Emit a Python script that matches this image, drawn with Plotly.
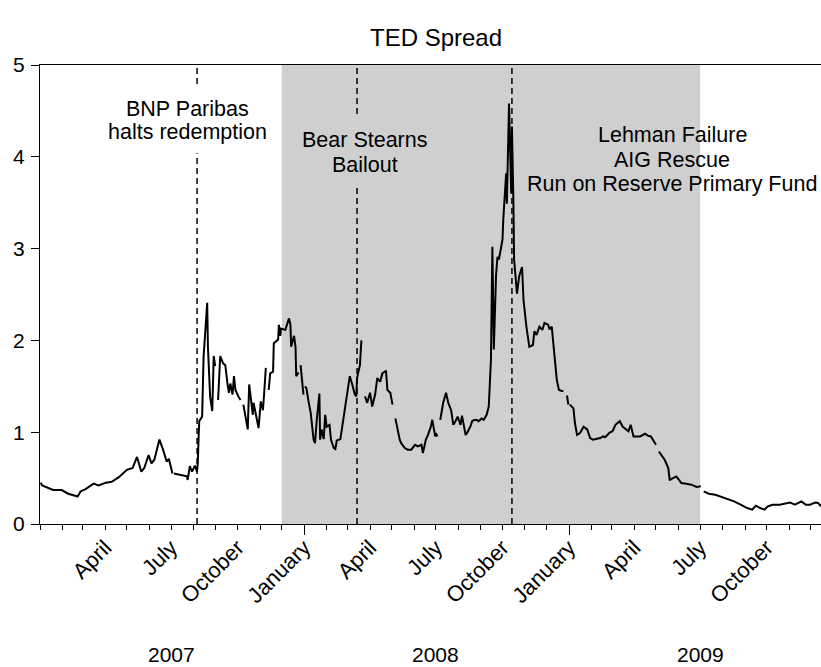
import plotly.graph_objects as go

# ---------------- data ----------------
ted_dates = [
    "2007-01-02", "2007-01-04", "2007-01-19", "2007-01-31", "2007-02-09", "2007-02-22", "2007-02-26",
    "2007-03-05", "2007-03-16", "2007-03-23", "2007-04-02", "2007-04-10", "2007-04-20", "2007-05-01",
    "2007-05-09", "2007-05-15", "2007-05-21", "2007-05-25", "2007-05-31", "2007-06-04", "2007-06-08",
    "2007-06-15", "2007-06-20", "2007-06-25", "2007-06-28", "2007-07-02", "2007-07-03", "2007-07-04",
    "2007-07-05", "2007-07-12", "2007-07-23", "2007-07-24", "2007-07-27", "2007-07-30", "2007-08-03",
    "2007-08-06", "2007-08-07", "2007-08-08", "2007-08-09", "2007-08-13", "2007-08-15", "2007-08-20",
    "2007-08-21", "2007-08-24", "2007-08-27", "2007-08-29", "2007-08-31", "2007-09-03", "2007-09-04",
    "2007-09-07", "2007-09-11", "2007-09-14", "2007-09-17", "2007-09-19", "2007-09-21", "2007-09-24",
    "2007-09-26", "2007-09-28", "2007-10-02", "2007-10-05", "2007-10-08", "2007-10-09", "2007-10-15",
    "2007-10-17", "2007-10-22", "2007-10-23", "2007-10-29", "2007-10-30", "2007-11-02", "2007-11-05",
    "2007-11-07", "2007-11-09", "2007-11-12", "2007-11-13", "2007-11-15", "2007-11-19", "2007-11-20",
    "2007-11-26", "2007-11-27", "2007-11-29", "2007-11-30", "2007-12-06", "2007-12-11", "2007-12-13",
    "2007-12-14", "2007-12-18", "2007-12-20", "2007-12-21", "2007-12-24", "2007-12-25", "2007-12-26",
    "2007-12-27", "2007-12-31", "2008-01-01", "2008-01-02", "2008-01-04", "2008-01-07", "2008-01-10",
    "2008-01-14", "2008-01-16", "2008-01-18", "2008-01-22", "2008-01-23", "2008-01-25", "2008-01-28",
    "2008-01-30", "2008-02-01", "2008-02-05", "2008-02-07", "2008-02-11", "2008-02-13", "2008-02-15",
    "2008-02-20", "2008-02-22", "2008-02-26", "2008-02-29", "2008-03-04", "2008-03-07", "2008-03-11",
    "2008-03-13", "2008-03-14", "2008-03-18", "2008-03-20", "2008-03-21", "2008-03-25", "2008-03-28",
    "2008-04-01", "2008-04-04", "2008-04-08", "2008-04-11", "2008-04-15", "2008-04-18", "2008-04-23",
    "2008-04-25", "2008-04-29", "2008-05-02", "2008-05-05", "2008-05-06", "2008-05-08", "2008-05-12",
    "2008-05-14", "2008-05-19", "2008-05-23", "2008-05-28", "2008-06-02", "2008-06-06", "2008-06-11",
    "2008-06-13", "2008-06-17", "2008-06-20", "2008-06-24", "2008-06-26", "2008-06-30", "2008-07-01",
    "2008-07-03", "2008-07-04", "2008-07-07", "2008-07-11", "2008-07-15", "2008-07-18", "2008-07-22",
    "2008-07-25", "2008-07-28", "2008-07-31", "2008-08-04", "2008-08-06", "2008-08-11", "2008-08-13",
    "2008-08-18", "2008-08-20", "2008-08-22", "2008-08-26", "2008-08-29", "2008-09-02", "2008-09-05",
    "2008-09-09", "2008-09-12", "2008-09-15", "2008-09-17", "2008-09-18", "2008-09-19", "2008-09-22",
    "2008-09-24", "2008-09-26", "2008-09-29", "2008-10-01", "2008-10-02", "2008-10-06", "2008-10-07",
    "2008-10-08", "2008-10-10", "2008-10-13", "2008-10-14", "2008-10-16", "2008-10-17", "2008-10-21",
    "2008-10-23", "2008-10-24", "2008-10-28", "2008-10-30", "2008-11-03", "2008-11-05", "2008-11-07",
    "2008-11-12", "2008-11-14", "2008-11-17", "2008-11-21", "2008-11-25", "2008-11-28", "2008-12-03",
    "2008-12-05", "2008-12-08", "2008-12-10", "2008-12-12", "2008-12-15", "2008-12-16", "2008-12-17",
    "2008-12-18", "2008-12-22", "2008-12-24", "2008-12-25", "2008-12-26", "2008-12-29", "2008-12-30",
    "2008-12-31", "2009-01-01", "2009-01-02", "2009-01-07", "2009-01-09", "2009-01-12", "2009-01-16",
    "2009-01-21", "2009-01-26", "2009-01-30", "2009-02-03", "2009-02-09", "2009-02-13", "2009-02-17",
    "2009-02-20", "2009-02-26", "2009-03-02", "2009-03-06", "2009-03-12", "2009-03-16", "2009-03-20",
    "2009-03-24", "2009-03-27", "2009-03-31", "2009-04-06", "2009-04-09", "2009-04-16", "2009-04-20",
    "2009-04-24", "2009-04-28", "2009-05-01", "2009-05-04", "2009-05-05", "2009-05-08", "2009-05-13",
    "2009-05-18", "2009-05-20", "2009-05-22", "2009-05-29", "2009-06-01", "2009-06-05", "2009-06-12",
    "2009-06-19", "2009-06-26", "2009-07-02", "2009-07-03", "2009-07-06", "2009-07-13", "2009-07-22",
    "2009-07-31", "2009-08-10", "2009-08-17", "2009-08-26", "2009-09-04", "2009-09-11", "2009-09-16",
    "2009-09-22", "2009-09-28", "2009-10-02", "2009-10-09", "2009-10-19", "2009-10-26", "2009-11-02",
    "2009-11-09", "2009-11-18", "2009-11-24", "2009-11-30", "2009-12-07", "2009-12-11", "2009-12-14",
    "2009-12-16",
]
ted_values = [
    0.45, 0.42, 0.37, 0.37, 0.33, 0.30, 0.355,
    0.38, 0.44, 0.42, 0.45, 0.46, 0.51, 0.59,
    0.61, 0.73, 0.57, 0.61, 0.75, 0.66, 0.70,
    0.92, 0.81, 0.68, 0.71, 0.555, 0.55, None,
    0.55, 0.54, 0.52, 0.48, 0.63, 0.57, 0.635,
    0.57, 0.66, 0.92, 1.12, 1.17, 1.82, 2.41,
    1.93, 1.39, 1.23, 1.83, 1.72, None, 1.35,
    1.83, 1.75, 1.73, 1.53, 1.43, 1.53, 1.41,
    1.61, 1.46, 1.39, 1.35, None, 1.30, 1.03,
    1.52, 1.19, 1.32, 1.045, 1.045, 1.335, 1.24,
    1.46, 1.70, None, 1.46, 1.64, 1.66, 1.97,
    2.01, 2.17, 2.05, 2.13, 2.115, 2.24, 2.17,
    1.93, 2.05, 1.93, 1.61, 1.65, None, None,
    1.73, 1.41, None, 1.50, 1.48, 1.335, 1.21,
    0.918, 0.88, 1.10, 1.42, 0.918, 1.03, 0.925,
    1.19, 1.06, 1.08, 0.918, 0.827, 0.816, 0.91,
    0.925, 1.03, 1.24, 1.37, 1.61, 1.53, 1.41,
    1.39, 1.59, 1.73, 2.00, None, 1.39, 1.32,
    1.43, 1.28, 1.41, 1.59, 1.55, 1.64, 1.67,
    1.46, 1.43, 1.30, None, 1.15, 1.06, 0.918,
    0.88, 0.827, 0.81, 0.81, 0.863, 0.845, 0.863,
    0.773, 0.918, 0.97, 1.06, 1.135, 0.954, 0.99,
    0.954, None, 1.135, 1.32, 1.43, 1.32, 1.24,
    1.08, 1.12, 1.17, 1.08, 1.18, 0.97, 0.99,
    1.07, 1.12, 1.13, 1.135, 1.12, 1.15, 1.135,
    1.19, 1.28, 1.79, 3.02, 2.51, 1.90, 2.70,
    2.91, 2.88, 3.02, 3.10, 3.31, 3.82, 3.49,
    3.82, 4.58, 3.60, 4.33, 3.53, 2.88, 2.51,
    2.66, 2.70, 2.80, 2.44, 2.15, 2.01, 1.93,
    1.95, 2.10, 2.06, 2.15, 2.115, 2.19, 2.17,
    2.12, 2.15, 1.97, 1.81, 1.57, 1.53, 1.50,
    1.46, 1.45, 1.45, None, None, 1.40, 1.32,
    1.30, None, 1.30, 1.26, 1.10, 0.97, 0.99,
    1.06, 1.03, 0.936, 0.918, 0.925, 0.936, 0.954,
    0.947, 0.997, 1.01, 1.08, 1.12, 1.06, 1.03,
    1.01, 1.08, 0.954, 0.954, 0.954, 0.983, 0.961,
    0.954, 0.90, 0.863, None, 0.79, 0.754, 0.70,
    0.61, 0.475, 0.49, 0.518, 0.49, 0.446, 0.439,
    0.428, 0.403, 0.41, None, 0.355, 0.33, 0.319,
    0.294, 0.272, 0.246, 0.21, 0.174, 0.156, 0.20,
    0.174, 0.156, 0.19, 0.21, 0.21, 0.221, 0.235,
    0.21, 0.246, 0.21, 0.21, 0.235, 0.229, 0.20,
    0.21,
]

event_dates = ["2007-08-06", "2008-03-14", "2008-10-14"]
recession_period = ["2007-12-01", "2009-07-01"]

month_tick_dates = ["2007-04-01", "2007-07-01", "2007-10-01", "2008-01-01", "2008-04-01", "2008-07-01",
                    "2008-10-01", "2009-01-01", "2009-04-01", "2009-07-01", "2009-10-01"]
month_tick_labels = ["April", "July", "October", "January", "April", "July",
                     "October", "January", "April", "July", "October"]
year_tick_dates = ["2008-01-01", "2009-01-01"]
year_labels = ["2007", "2008", "2009"]
year_label_dates = ["2007-07-01", "2008-07-01", "2009-07-01"]
x_range = ["2007-01-01", "2009-12-15"]
y_ticks = [0, 1, 2, 3, 4, 5]

FONT = "Liberation Sans, Arial, sans-serif"
SHADE = "#cfcfcf"

fig = go.Figure()
fig.add_trace(go.Scatter(x=ted_dates, y=ted_values, mode="lines",
                         line=dict(color="black", width=2), connectgaps=False,
                         showlegend=False, hoverinfo="skip"))
# invisible helper trace carrying the long year ticks axis
fig.add_trace(go.Scatter(x=year_tick_dates, y=[None] * len(year_tick_dates), xaxis="x2",
                         mode="markers", showlegend=False, hoverinfo="skip"))

shapes = [dict(type="rect", xref="x", yref="paper", x0=recession_period[0], x1=recession_period[1],
               y0=0, y1=1, fillcolor=SHADE, line=dict(width=0), layer="below")]
for d in event_dates:
    shapes.append(dict(type="line", xref="x", yref="paper", x0=d, x1=d, y0=0, y1=1,
                       line=dict(color="black", width=1.5, dash="6px,4px"), layer="above"))
# label background boxes that interrupt the dashed event lines
shapes.append(dict(type="rect", xref="paper", yref="paper", x0=0.073, x1=0.305, y0=0.808, y1=0.956,
                   fillcolor="white", line=dict(width=0), layer="above"))
shapes.append(dict(type="rect", xref="paper", yref="paper", x0=0.3265, x1=0.5058, y0=0.739, y1=0.885,
                   fillcolor=SHADE, line=dict(width=0), layer="above"))

annotations = []
def note(lines, xc, ys, size=21.5):
    for t, y in zip(lines, ys):
        annotations.append(dict(text=t, xref="paper", yref="paper", x=xc, y=y, showarrow=False,
                                xanchor="center", yanchor="middle",
                                font=dict(family=FONT, size=size, color="black")))

note(["BNP Paribas", "halts redemption"], 0.1889, [0.904, 0.854])
note(["Bear Stearns", "Bailout"], 0.4161, [0.8366, 0.7821])
note(["Lehman Failure", "AIG Rescue", "Run on Reserve Primary Fund"], 0.8098, [0.8475, 0.793, 0.7407])
annotations.append(dict(text="TED Spread", xref="paper", yref="paper", x=0.507, y=1.06,
                        showarrow=False, xanchor="center", yanchor="middle",
                        font=dict(family=FONT, size=24, color="black")))
for yl, yd in zip(year_labels, year_label_dates):
    annotations.append(dict(text=yl, xref="x", yref="paper", x=yd, y=-0.2854, showarrow=False,
                            xanchor="center", yanchor="middle",
                            font=dict(family=FONT, size=21, color="black")))

fig.update_layout(
    width=821, height=667,
    margin=dict(l=40, r=0, t=65, b=143),
    paper_bgcolor="white", plot_bgcolor="white",
    font=dict(family=FONT, size=21, color="black"),
    shapes=shapes, annotations=annotations,
    xaxis=dict(type="date", range=x_range, tickvals=month_tick_dates, ticktext=month_tick_labels,
               tickangle=-45, ticks="", showgrid=False, zeroline=False,
               showline=True, linecolor="black", linewidth=1, mirror=True,
               ticklabelstandoff=1, tickfont=dict(family=FONT, size=22, color="black"),
               minor=dict(dtick="M1", tick0="2007-01-01", ticks="outside", ticklen=5,
                          tickcolor="black", tickwidth=1, showgrid=False)),
    xaxis2=dict(type="date", range=x_range, overlaying="x", anchor="y", side="bottom",
                tickvals=year_tick_dates, ticks="outside", ticklen=10, tickcolor="black",
                tickwidth=1, showticklabels=False, showgrid=False, zeroline=False, showline=False),
    yaxis=dict(range=[0, 5], tickvals=y_ticks, ticks="outside", ticklen=8, tickcolor="black",
               showgrid=False, zeroline=False, showline=True, linecolor="black", linewidth=1,
               ticklabelstandoff=2),
)

fig.write_html("out.html", config={"displayModeBar": False},
               post_script="document.body.style.margin='0';")
